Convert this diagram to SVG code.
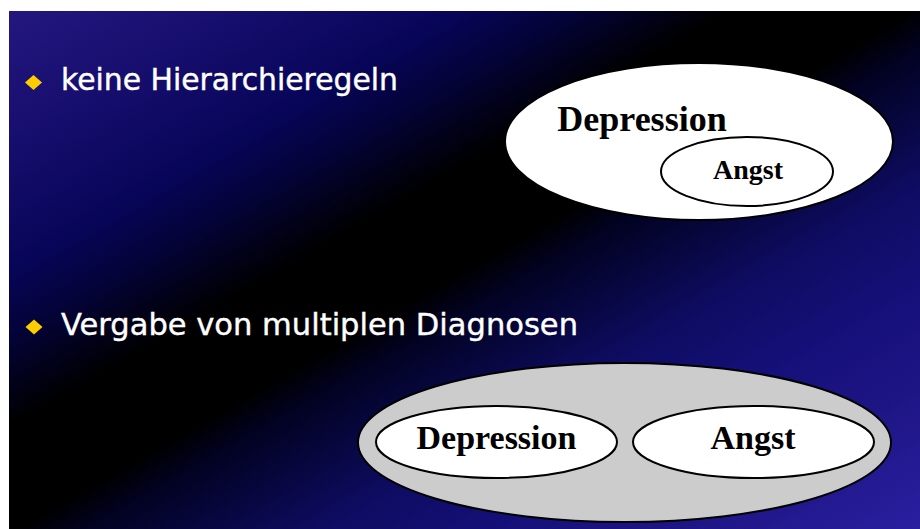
<svg xmlns="http://www.w3.org/2000/svg" width="920" height="529" viewBox="0 0 920 529">
  <defs>
    <linearGradient id="bg" gradientUnits="userSpaceOnUse" x1="9" y1="11" x2="461" y2="794">
      <stop offset="0" stop-color="#23177f"/>
      <stop offset="0.114" stop-color="#180f70"/>
      <stop offset="0.25" stop-color="#070558"/>
      <stop offset="0.31" stop-color="#04033a"/>
      <stop offset="0.4" stop-color="#000000"/>
      <stop offset="0.5" stop-color="#000000"/>
      <stop offset="0.54" stop-color="#020222"/>
      <stop offset="0.67" stop-color="#0e0c62"/>
      <stop offset="0.77" stop-color="#15107a"/>
      <stop offset="0.865" stop-color="#1e1585"/>
      <stop offset="1" stop-color="#2a1fa0"/>
    </linearGradient>
    <style>
      .bullet { fill: #ffcc00; }
      .btext { font-family: "DejaVu Sans", "Liberation Sans", sans-serif; font-size: 30px; fill: #ffffff; stroke: #ffffff; stroke-width: 0.4; }
      .lbl { font-family: "Liberation Serif", "Times New Roman", serif; font-weight: bold; fill: #000000; text-anchor: middle; }
      .ell { stroke: #000000; stroke-width: 2; }
    </style>
  </defs>
  <rect x="0" y="0" width="920" height="529" fill="#ffffff"/>
  <rect x="9" y="11" width="911" height="518" fill="url(#bg)"/>

  <g id="bullet1">
    <polygon class="bullet" points="33.5,75 42,82.5 33.5,90 25,82.5"/>
    <text class="btext" x="61" y="90" textLength="337" lengthAdjust="spacingAndGlyphs">keine Hierarchieregeln</text>
  </g>
  <g id="bullet2">
    <polygon class="bullet" points="34,319.5 42.5,327 34,334.5 25.5,327"/>
    <text class="btext" x="61" y="335" textLength="517" lengthAdjust="spacingAndGlyphs">Vergabe von multiplen Diagnosen</text>
  </g>

  <g id="depression-top">
    <ellipse class="ell" cx="699" cy="141.5" rx="194" ry="78.5" fill="#ffffff"/>
    <text class="lbl" x="642" y="131" font-size="36">Depression</text>
  </g>
  <g id="angst-top">
    <ellipse class="ell" cx="747" cy="171.5" rx="86" ry="34.5" fill="#ffffff"/>
    <text class="lbl" x="748" y="179" font-size="28">Angst</text>
  </g>

  <g id="multiple">
    <ellipse class="ell" cx="624.5" cy="442.5" rx="266.5" ry="79.5" fill="#cccccc"/>
  </g>
  <g id="depression-bottom">
    <ellipse class="ell" cx="496.5" cy="442" rx="120.5" ry="36" fill="#ffffff"/>
    <text class="lbl" x="496.5" y="449" font-size="34">Depression</text>
  </g>
  <g id="angst-bottom">
    <ellipse class="ell" cx="753.5" cy="442" rx="120.5" ry="36" fill="#ffffff"/>
    <text class="lbl" x="753" y="449" font-size="34">Angst</text>
  </g>

  <g id="connectors"></g>
</svg>
